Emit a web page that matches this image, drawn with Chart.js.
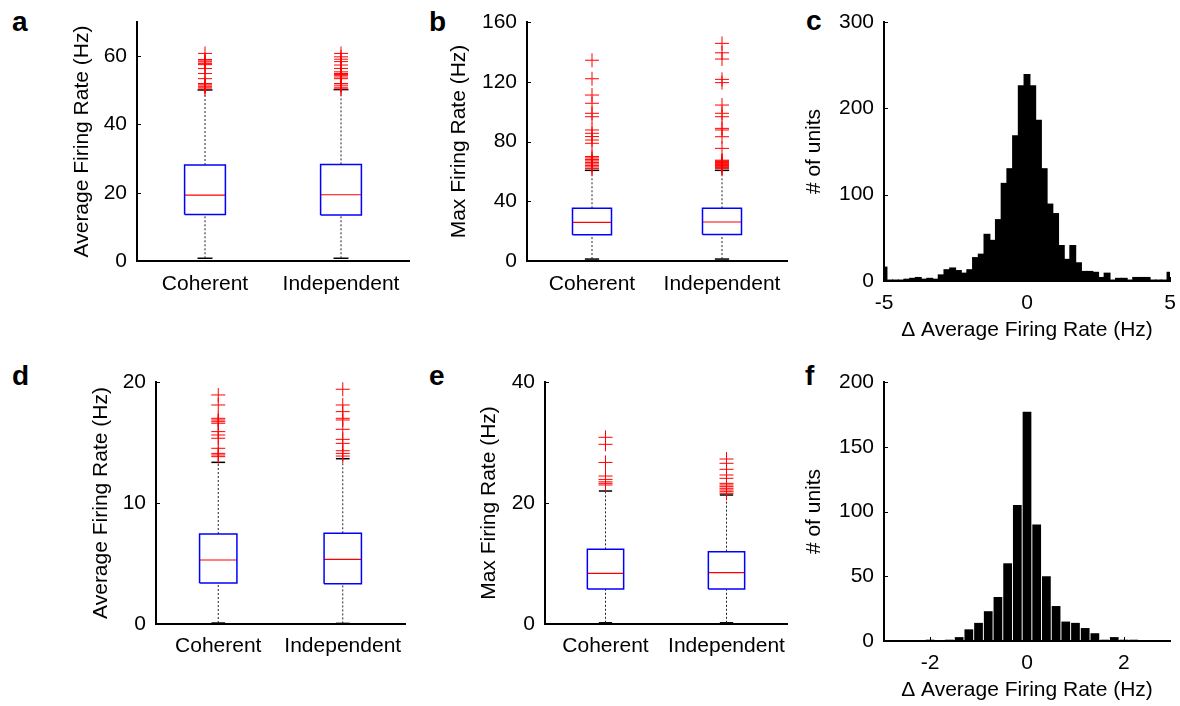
<!DOCTYPE html>
<html>
<head>
<meta charset="utf-8">
<script src="https://cdn.jsdelivr.net/npm/chart.js@4.4.1/dist/chart.umd.min.js"></script>
<style>
  body { margin: 0; width: 1180px; height: 706px; background: #fff; position: relative; overflow: hidden; font-family: 'Liberation Sans', Arial, sans-serif; }
  canvas { position: absolute; }
  .lbl { position: absolute; font-weight: bold; font-size: 28px; line-height: 28px; color: #000; }
</style>
</head>
<body>
<div class="lbl" style="left:12px;top:8px">a</div>
<div class="lbl" style="left:429px;top:8px">b</div>
<div class="lbl" style="left:806px;top:7px">c</div>
<div class="lbl" style="left:12px;top:362px">d</div>
<div class="lbl" style="left:429px;top:362px">e</div>
<div class="lbl" style="left:805px;top:362px">f</div>

<canvas id="chartA" width="351" height="299" style="left:70px;top:2px"></canvas>
<canvas id="chartB" width="352" height="299" style="left:447px;top:2px"></canvas>
<canvas id="chartC" width="376" height="341" style="left:802px;top:2px"></canvas>
<canvas id="chartD" width="328" height="302" style="left:89px;top:362px"></canvas>
<canvas id="chartE" width="322" height="302" style="left:477px;top:362px"></canvas>
<canvas id="chartF" width="376" height="341" style="left:802px;top:362px"></canvas>

<script>
// groups on the box plots
const groupNames = ['Coherent', 'Independent'];

// each box: [lower whisker, q1, median, q3, upper whisker]
// a - average firing rate
const avgStats = [[0.8, 13.6, 19.3, 28.1, 50.1], [0.8, 13.5, 19.4, 28.3, 50.2]];
const avgOutCoh = [50.4, 50.9, 51.2, 51.6, 52.0, 53.4, 54.9, 56.4, 57.5, 57.8, 58.3, 58.6, 59.0, 60.8];
const avgOutInd = [50.4, 50.9, 51.5, 52.0, 53.4, 53.9, 54.4, 54.6, 54.9, 55.4, 56.4, 57.4, 58.4, 59.1, 59.8, 60.8];
const avgTicks = [0, 20, 40, 60];

// b - max firing rate
const maxStats = [[1.3, 17.6, 25.9, 35.3, 60.7], [1.3, 17.8, 26.1, 35.3, 60.7]];
const maxOutCoh = [62, 63, 64, 65, 66, 67, 68, 69, 70, 78.8, 81, 83.3, 85.5, 87.7, 96.6, 98.9, 105.6, 111.1, 122, 134.4];
const maxOutInd = [62, 62.5, 63, 63.5, 64, 64.5, 65, 65.5, 66, 66.5, 67, 67.5, 75.4, 83.2, 87.7, 88.8, 96.6, 98.9, 104.4, 119.4, 121.6, 135.2, 139.4, 145.7];
const maxTicks = [0, 40, 80, 120, 160];

// c - histogram of difference in average rate
const diffBins = [-5, -4.8, -4.6, -4.4, -4.2, -4, -3.8, -3.6, -3.4, -3.2, -3, -2.8, -2.6, -2.4, -2.2, -2, -1.8, -1.6, -1.4, -1.2, -1, -0.8, -0.6, -0.4, -0.2,
  0, 0.2, 0.4, 0.6, 0.8, 1, 1.2, 1.4, 1.6, 1.8, 2, 2.2, 2.4, 2.6, 2.8, 3, 3.2, 3.4, 3.6, 3.8, 4, 4.2, 4.4, 4.6, 4.8, 5];
const diffCounts = [16, 1, 1, 1, 2, 3, 4, 2, 3, 2, 7, 13, 15, 12, 9, 13, 27, 31, 54, 47, 71, 113, 130, 168, 226,
  239, 226, 186, 130, 89, 78, 41, 25, 41, 21, 11, 11, 10, 4, 9, 1, 3, 3, 1, 4, 4, 4, 1, 1, 1, 10];
const diffXTicks = [-5, 0, 5];
const diffYTicks = [0, 100, 200, 300];

// d - average firing rate (second set)
const avg2Stats = [[0.08, 3.39, 5.29, 7.44, 13.36], [0.05, 3.33, 5.34, 7.5, 13.66]];
const avg2OutCoh = [13.83, 13.97, 14.1, 14.52, 15.35, 15.62, 15.9, 16.59, 16.72, 16.86, 17.0, 18.1, 18.93];
const avg2OutInd = [13.88, 14.1, 14.32, 14.93, 15.26, 16.09, 16.86, 17.0, 17.55, 18.1, 19.4];
const avg2Ticks = [0, 10, 20];

// e - max firing rate (second set)
const max2Stats = [[0.2, 5.79, 8.37, 12.34, 21.98], [0.2, 5.79, 8.48, 11.96, 21.32]];
const max2OutCoh = [22.98, 23.25, 23.5, 23.9, 24.46, 26.7, 29.7, 30.86];
const max2OutInd = [21.6, 21.87, 22.15, 22.43, 22.7, 22.98, 23.25, 24.08, 24.63, 25.57, 26.56, 27.27];
const max2Ticks = [0, 20, 40];

// f - histogram (second set)
const diff2Bins = [-2.8, -2.6, -2.4, -2.2, -2, -1.8, -1.6, -1.4, -1.2, -1, -0.8, -0.6, -0.4, -0.2, 0,
  0.2, 0.4, 0.6, 0.8, 1, 1.2, 1.4, 1.6, 1.8, 2, 2.2, 2.4, 2.6, 2.8];
const diff2Counts = [0, 0, 0, 0, 1, 0, 1, 3, 9, 14, 23, 34, 60, 105, 177, 90, 50, 27, 15, 14, 10, 6, 1, 3, 1, 1, 0, 0, 0];
const diff2XTicks = [-2, 0, 2];
const diff2YTicks = [0, 50, 100, 150, 200];

Chart.defaults.font.family = "'Liberation Sans', Arial, sans-serif";
Chart.defaults.font.size = 21;
Chart.defaults.color = '#000';

const BOX = 0.15;  // half width of box
const CAP = 0.055; // half width of whisker cap

// short ticks pointing into the plot, matlab style
const inTicks = {
  id: 'inTicks',
  afterDraw(chart, args, opts) {
    const ctx = chart.ctx;
    const area = chart.chartArea;
    const xs = chart.scales.x, ys = chart.scales.y;
    ctx.save();
    ctx.strokeStyle = '#000';
    ctx.lineWidth = 1;
    ys.ticks.forEach(t => {
      const py = Math.round(ys.getPixelForValue(t.value)) + 0.5;
      ctx.beginPath(); ctx.moveTo(area.left, py); ctx.lineTo(area.left + 4, py); ctx.stroke();
    });
    if (opts.x) {
      xs.ticks.forEach(t => {
        const px = Math.round(xs.getPixelForValue(t.value)) + 0.5;
        ctx.beginPath(); ctx.moveTo(px, area.bottom); ctx.lineTo(px, area.bottom - 4); ctx.stroke();
      });
    }
    ctx.restore();
  }
};

function line(pts, color, width, dash) {
  return {
    data: pts.map(p => ({ x: p[0], y: p[1] })),
    showLine: true, pointRadius: 0, borderColor: color, borderWidth: width,
    borderDash: dash || [], fill: false, order: 1
  };
}

function boxSets(stats, outliers) {
  const sets = [];
  stats.forEach((s, i) => {
    const c = i + 1;
    const [lo, q1, med, q3, hi] = s;
    sets.push({
      data: outliers[i].map(v => ({ x: c, y: v })),
      showLine: false, pointStyle: 'cross', pointRadius: 7,
      pointBorderColor: '#ff0000', pointBorderWidth: 1, order: 0
    });
    sets.push(line([[c, q3], [c, hi]], '#222', 1, [2, 2]));
    sets.push(line([[c, lo], [c, q1]], '#222', 1, [2, 2]));
    sets.push(line([[c - CAP, hi], [c + CAP, hi]], '#000', 1.5));
    sets.push(line([[c - CAP, lo], [c + CAP, lo]], '#000', 1.5));
    sets.push(line([[c - BOX, q1], [c + BOX, q1], [c + BOX, q3], [c - BOX, q3], [c - BOX, q1]], '#0000ff', 1.5));
    sets.push(line([[c - BOX, med], [c + BOX, med]], '#ff0000', 1.2));
  });
  return sets;
}

function yAxis(max, ticks, title, w) {
  return {
    min: 0, max: max,
    grid: { display: false },
    border: { color: '#000', width: 2 },
    afterBuildTicks: s => { s.ticks = ticks.map(v => ({ value: v })); },
    ticks: { padding: 2, color: '#000' },
    title: { display: true, text: title, color: '#000', padding: 0 },
    afterFit: s => { s.width = w; }
  };
}

function boxChart(id, stats, outliers, yMax, yTicks, yTitle, yW, xPad) {
  new Chart(document.getElementById(id), {
    type: 'scatter',
    data: { datasets: boxSets(stats, outliers) },
    options: {
      responsive: false,
      animation: false,
      layout: { padding: { top: 20, right: 12 } },
      plugins: { legend: { display: false }, tooltip: { enabled: false }, inTicks: { x: false } },
      scales: {
        x: {
          type: 'linear', min: 0.5, max: 2.5,
          grid: { display: false },
          border: { color: '#000', width: 2 },
          afterBuildTicks: s => { s.ticks = groupNames.map((n, i) => ({ value: i + 1 })); },
          ticks: { callback: v => groupNames[v - 1], padding: xPad, color: '#000', maxRotation: 0, autoSkip: false },
          afterFit: s => { s.height = 40; }
        },
        y: yAxis(yMax, yTicks, yTitle, yW)
      }
    },
    plugins: [inTicks]
  });
}

function histChart(id, bins, counts, xMin, xMax, xTicks, yMax, yTicks, barPct, inflate) {
  new Chart(document.getElementById(id), {
    type: 'bar',
    data: {
      datasets: [{
        data: bins.map((b, i) => ({ x: b, y: counts[i] })),
        backgroundColor: '#000', borderWidth: 0,
        barPercentage: barPct, categoryPercentage: 1, inflateAmount: inflate
      }]
    },
    options: {
      responsive: false,
      animation: false,
      layout: { padding: { top: 20, right: 8 } },
      plugins: { legend: { display: false }, tooltip: { enabled: false }, inTicks: { x: true } },
      scales: {
        x: {
          type: 'linear', offset: false, min: xMin, max: xMax,
          grid: { display: false },
          border: { color: '#000', width: 2 },
          afterBuildTicks: s => { s.ticks = xTicks.map(v => ({ value: v })); },
          ticks: { padding: 2, color: '#000', maxRotation: 0, autoSkip: false },
          title: { display: true, text: '\u0394 Average Firing Rate (Hz)', color: '#000', padding: 0 },
          afterFit: s => { s.height = 62; }
        },
        y: yAxis(yMax, yTicks, '# of units', 82)
      }
    },
    plugins: [inTicks]
  });
}

boxChart('chartA', avgStats, [avgOutCoh, avgOutInd], 70, avgTicks, 'Average Firing Rate (Hz)', 67, 3);
boxChart('chartB', maxStats, [maxOutCoh, maxOutInd], 160, maxTicks, 'Max Firing Rate (Hz)', 80, 3);
histChart('chartC', diffBins, diffCounts, -5, 5, diffXTicks, 300, diffYTicks, 1, 0.6);
boxChart('chartD', avg2Stats, [avg2OutCoh, avg2OutInd], 20, avg2Ticks, 'Average Firing Rate (Hz)', 67, 2);
boxChart('chartE', max2Stats, [max2OutCoh, max2OutInd], 40, max2Ticks, 'Max Firing Rate (Hz)', 68, 2);
histChart('chartF', diff2Bins, diff2Counts, -2.95, 2.95, diff2XTicks, 200, diff2YTicks, 0.9, 0);
</script>
</body>
</html>
